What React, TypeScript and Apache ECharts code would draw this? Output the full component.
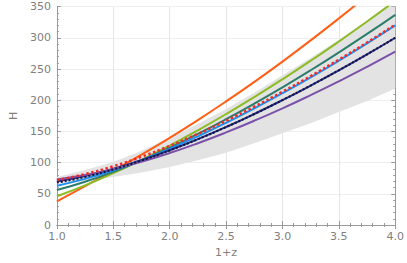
import React, { useEffect, useRef } from "react";
import * as echarts from "echarts";

const xs = [1.0, 1.25, 1.5, 1.75, 2.0, 2.25, 2.5, 2.75, 3.0, 3.25, 3.5, 3.75, 4.0];
const bandLower = [66, 71, 77, 84, 93, 104, 116, 131, 147, 163, 181, 199, 219];
const bandUpper = [77, 88, 101, 119, 140, 162, 186, 212, 240, 268, 297, 328, 362];
const orange = [38, 62.5, 87.1, 112.7, 139.8, 168.2, 198.1, 229.4, 262.0, 296.0, 331.2, 367.6, 405.3];
const green = [46, 63.5, 83.1, 104.4, 127.4, 151.9, 177.8, 205.1, 233.6, 263.3, 294.2, 326.2, 359.4];
const teal = [56, 69.3, 85.4, 103.8, 124.1, 146.1, 169.6, 194.5, 220.7, 248.1, 276.7, 306.3, 337.0];
const blue = [63, 73.9, 87.7, 103.9, 122.1, 142.2, 163.8, 186.9, 211.3, 236.8, 263.5, 291.3, 320.1];
const navy = [70, 78.7, 90.1, 103.9, 119.9, 137.7, 157.1, 178.0, 200.2, 223.6, 248.1, 273.6, 300.2];
const purple = [73, 80.1, 89.7, 101.5, 115.4, 131.1, 148.4, 167.1, 187.0, 208.2, 230.4, 253.6, 277.8];
const darkDotted = [68, 77.1, 89.0, 103.3, 119.5, 137.5, 157.0, 178.0, 200.2, 223.6, 248.1, 273.6, 300.2];
const redDotted = [72, 81.6, 94.2, 109.4, 126.8, 146.1, 167.1, 189.7, 213.6, 238.8, 265.2, 292.6, 321.2];

const pairs = (ys: number[]) => xs.map((x, i) => [x, ys[i]]);

export default function App() {
  const ref = useRef<HTMLDivElement>(null);
  useEffect(() => {
    if (!ref.current) return;
    const chart = echarts.init(ref.current, null, { renderer: "svg" });
    const font = "DejaVu Sans";
    const axisCol = "#9a9a9a";
    const labelCol = "#808080";
    const line = (name: string, ys: number[], color: string, type: any = "solid", width = 2) => ({
      name,
      type: "line",
      data: pairs(ys),
      smooth: true,
      showSymbol: false,
      lineStyle: { color, width, type },
      z: 3,
    });
    const bandData = xs.map((x, i) => [x, bandLower[i], bandUpper[i]]);
    chart.setOption({
      animation: false,
      grid: { left: 39.5, right: 9, top: 6.7, bottom: 34.7, containLabel: false },
      xAxis: [
        {
          type: "value", min: 1, max: 4, interval: 0.5,
          name: "1+z", nameLocation: "middle", nameGap: 22,
          nameTextStyle: { color: labelCol, fontFamily: font, fontSize: 11 },
          axisLine: { show: true, lineStyle: { color: axisCol, width: 1 } },
          axisTick: { show: true, inside: true, length: 4, lineStyle: { color: axisCol } },
          minorTick: { show: true, splitNumber: 5, length: 2, lineStyle: { color: axisCol } },
          axisLabel: { color: labelCol, fontFamily: font, fontSize: 11, margin: 6, formatter: (v: number) => v.toFixed(1) },
          splitLine: { show: true, lineStyle: { color: "#e6e6e6", width: 1 } },
        },
        {
          type: "value", min: 1, max: 4, interval: 0.5, position: "top",
          axisLine: { show: true, lineStyle: { color: axisCol, width: 1 } },
          axisTick: { show: true, inside: true, length: 4, lineStyle: { color: axisCol } },
          minorTick: { show: true, splitNumber: 5, length: 2, lineStyle: { color: axisCol } },
          axisLabel: { show: false },
          splitLine: { show: false },
        },
      ],
      yAxis: [
        {
          type: "value", min: 0, max: 350, interval: 50,
          name: "H", nameLocation: "middle", nameGap: 28,
          nameTextStyle: { color: labelCol, fontFamily: font, fontSize: 11 },
          axisLine: { show: true, lineStyle: { color: axisCol, width: 1 } },
          axisTick: { show: true, inside: true, length: 4, lineStyle: { color: axisCol } },
          minorTick: { show: true, splitNumber: 5, length: 2, lineStyle: { color: axisCol } },
          axisLabel: { color: labelCol, fontFamily: font, fontSize: 11, margin: 6 },
          splitLine: { show: true, lineStyle: { color: "#eeeeee", width: 1 } },
        },
        {
          type: "value", min: 0, max: 350, interval: 50, position: "right",
          axisLine: { show: true, lineStyle: { color: axisCol, width: 1 } },
          axisTick: { show: true, inside: true, length: 4, lineStyle: { color: axisCol } },
          minorTick: { show: true, splitNumber: 5, length: 2, lineStyle: { color: axisCol } },
          axisLabel: { show: false },
          splitLine: { show: false },
        },
      ],
      series: [
        {
          name: "band",
          type: "custom",
          data: [0],
          clip: true,
          z: 1,
          silent: true,
          renderItem: (params: any, api: any) => {
            const top = bandData.map((d) => api.coord([d[0], d[2]]));
            const bot = bandData.slice().reverse().map((d) => api.coord([d[0], d[1]]));
            return {
              type: "polygon",
              shape: { points: top.concat(bot) },
              style: { fill: "#e3e3e3", stroke: "none" },
            };
          },
        },
        line("orange", orange, "#ff5f15"),
        line("green", green, "#8cbb24"),
        line("teal", teal, "#2d7d6c"),
        line("blue", blue, "#1e8fef"),
        line("navy", navy, "#262b87"),
        line("purple", purple, "#7b52aa"),
        line("darkDotted", darkDotted, "#14143c", "dotted", 2),
        line("redDotted", redDotted, "#ee2a2a", "dotted", 2.5),
      ],
    });
    return () => chart.dispose();
  }, []);
  return <div ref={ref} style={{ width: 407, height: 263, position: "absolute", left: 0, top: 0 }} />;
}
